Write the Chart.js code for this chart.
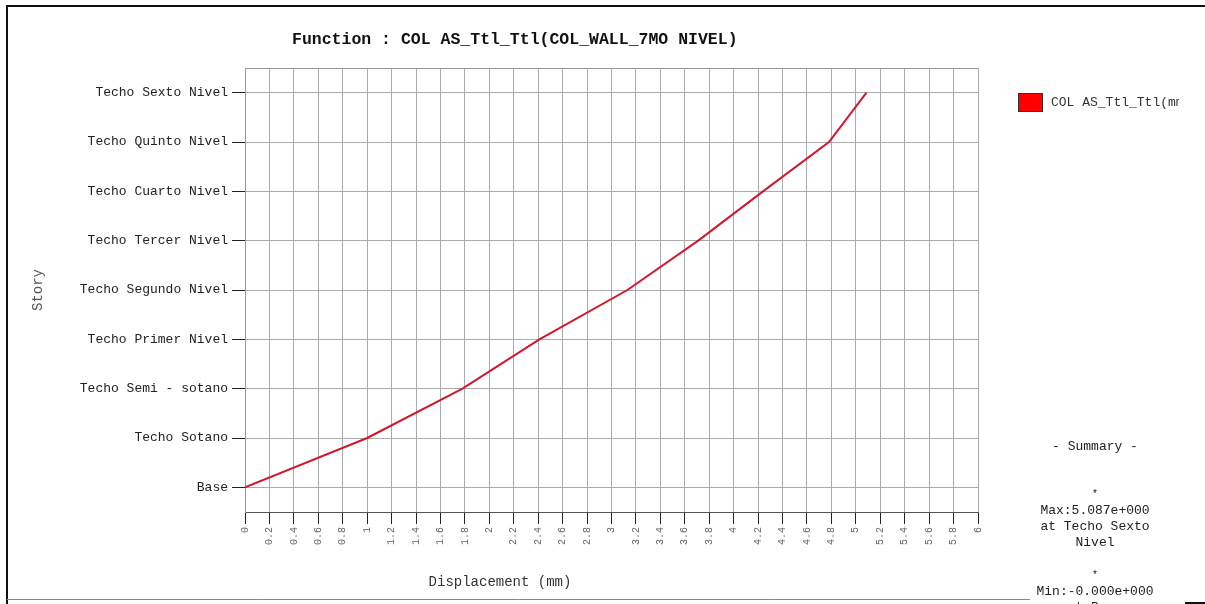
<!DOCTYPE html>
<html>
<head>
<meta charset="utf-8">
<title>Function : COL AS_Ttl_Ttl</title>
<script src="https://cdn.jsdelivr.net/npm/chart.js@4.4.1/dist/chart.umd.min.js"></script>
<style>
    body { margin: 0; background: #fff; }
    #wrap { position: relative; width: 1205px; height: 604px; }
</style>
</head>
<body>
<div id="wrap">
    <canvas id="storyChart" width="1205" height="604"></canvas>
</div>
<script>
// --- Data ---
const storyLevels = [
    "Base",
    "Techo Sotano",
    "Techo Semi - sotano",
    "Techo Primer Nivel",
    "Techo Segundo Nivel",
    "Techo Tercer Nivel",
    "Techo Cuarto Nivel",
    "Techo Quinto Nivel",
    "Techo Sexto Nivel",
];
const displacement = [0, 1.0, 1.78, 2.41, 3.13, 3.71, 4.24, 4.78, 5.087];
const seriesLabel = "COL AS_Ttl_Ttl(mm)";
const chartTitle = "Function : COL AS_Ttl_Ttl(COL_WALL_7MO NIVEL)";
const xAxisTitle = "Displacement (mm)";
const yAxisTitle = "Story";
const summaryLines = [
    "- Summary -",
    "",
    "*",
    "Max:5.087e+000",
    "at Techo Sexto",
    "Nivel",
    "",
    "*",
    "Min:-0.000e+000",
    "at Base",
];

const MONO = "'Liberation Mono', 'Courier New', monospace";

// --- Extra drawing: frame, title, x title, legend, summary ---
const decorPlugin = {
    id: "decor",
    beforeDraw(chart) {
        const c = chart.ctx;
        c.save();
        c.fillStyle = "#fff";
        c.fillRect(0, 0, chart.width, chart.height);
        // outer frame
        c.strokeStyle = "#111";
        c.lineWidth = 2;
        c.beginPath();
        c.moveTo(7, 604);
        c.lineTo(7, 6);
        c.lineTo(1205, 6);
        c.stroke();
        c.lineWidth = 1;
        c.strokeStyle = "#888";
        c.beginPath();
        c.moveTo(7, 599.5);
        c.lineTo(1030, 599.5);
        c.stroke();
        c.strokeStyle = "#111";
        c.lineWidth = 2;
        c.beginPath();
        c.moveTo(1185, 603);
        c.lineTo(1205, 603);
        c.stroke();
        c.restore();
    },
    afterDraw(chart) {
        const c = chart.ctx;
        const area = chart.chartArea;
        c.save();
        // top border of plot
        c.strokeStyle = "#999";
        c.lineWidth = 1;
        c.beginPath();
        c.moveTo(area.left, area.top + 0.5);
        c.lineTo(area.right, area.top + 0.5);
        c.stroke();

        // title
        c.fillStyle = "#111";
        c.font = "bold 16.5px " + MONO;
        c.textAlign = "left";
        c.textBaseline = "middle";
        c.fillText(chartTitle, 292, 40);

        // x axis title
        c.font = "14px " + MONO;
        c.fillStyle = "#333";
        c.textAlign = "center";
        c.fillText(xAxisTitle, 500, 582);

        // legend
        const ds = chart.data.datasets[0];
        c.fillStyle = "#ff0000";
        c.fillRect(1018, 93, 24, 18);
        c.strokeStyle = "#333";
        c.lineWidth = 1;
        c.strokeRect(1018.5, 93.5, 24, 18);
        c.save();
        c.beginPath();
        c.rect(1045, 85, 134, 30);
        c.clip();
        c.fillStyle = "#333";
        c.font = "13px " + MONO;
        c.textAlign = "left";
        c.fillText(ds.label, 1051, 103);
        c.restore();

        // summary
        c.fillStyle = "#222";
        c.textAlign = "center";
        summaryLines.forEach((line, i) => {
            if (!line) return;
            const y = 447 + i * 16.2 + (i >= 2 ? 15 : 0);
            c.font = (line === "*" ? "10px " : "13px ") + MONO;
            c.fillText(line, 1095, y);
        });
        c.restore();
    },
};

function fmtTick(v) {
    return parseFloat(v.toFixed(1)).toString();
}

const ctx = document.getElementById("storyChart").getContext("2d");
const storyChart = new Chart(ctx, {
    type: "line",
    data: {
        datasets: [
            {
                label: seriesLabel,
                data: displacement.map((d, i) => ({ x: d, y: i })),
                borderColor: "#d0182a",
                backgroundColor: "#ff0000",
                borderWidth: 2,
                pointRadius: 0,
                tension: 0,
            },
        ],
    },
    options: {
        responsive: false,
        animation: false,
        layout: {
            padding: { left: 28, top: 68, right: 227, bottom: 0 },
        },
        plugins: {
            legend: { display: false },
            title: { display: false },
            tooltip: { enabled: false },
        },
        scales: {
            x: {
                type: "linear",
                min: 0,
                max: 6,
                afterFit: (scale) => {
                    scale.height = 92;
                },
                ticks: {
                    stepSize: 0.2,
                    autoSkip: false,
                    minRotation: 90,
                    maxRotation: 90,
                    padding: 3,
                    color: "#666",
                    font: { family: MONO, size: 10 },
                    callback: (v) => fmtTick(v),
                },
                grid: {
                    color: "#aaa",
                    lineWidth: 1,
                    tickLength: 12,
                    tickColor: "#222",
                },
                border: { display: true, color: "#555", width: 1 },
            },
            y: {
                type: "linear",
                min: -0.5,
                max: 8.5,
                afterFit: (scale) => {
                    scale.width = 217;
                },
                afterBuildTicks: (scale) => {
                    scale.ticks = storyLevels.map((_, i) => ({ value: i }));
                },
                ticks: {
                    padding: 4,
                    color: "#222",
                    font: { family: MONO, size: 13 },
                    callback: (v) => storyLevels[v] || "",
                },
                grid: {
                    color: "#aaa",
                    lineWidth: 1,
                    tickLength: 13,
                    tickColor: "#222",
                },
                border: { display: true, color: "#999", width: 1 },
                title: {
                    display: true,
                    text: yAxisTitle,
                    color: "#555",
                    font: { family: MONO, size: 14 },
                    padding: { top: 2, bottom: 0 },
                },
            },
        },
    },
    plugins: [decorPlugin],
});
</script>
</body>
</html>
